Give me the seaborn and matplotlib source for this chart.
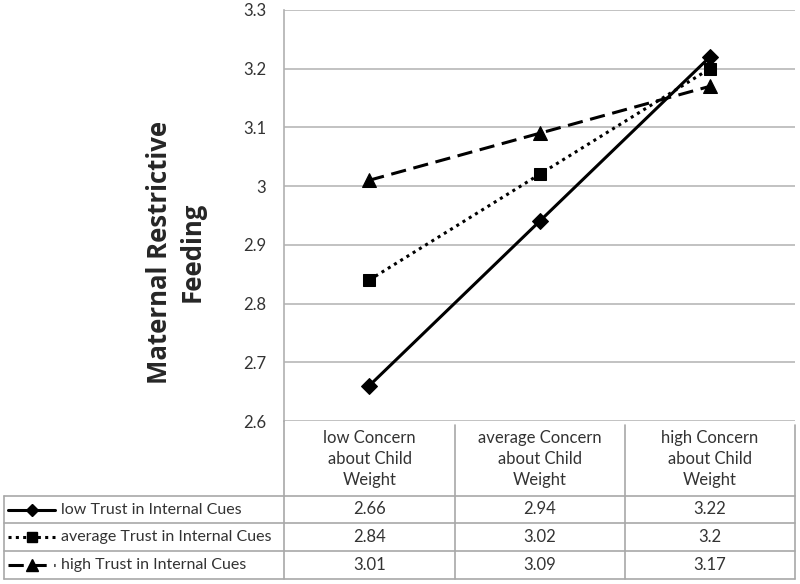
import matplotlib
matplotlib.use("Agg")
import matplotlib.pyplot as plt
import seaborn as sns
import pandas as pd
from matplotlib.lines import Line2D

# ---------------------------------------------------------
# DATA
# ---------------------------------------------------------
concern_labels = [
    "low Concern\nabout Child\nWeight",
    "average Concern\nabout Child\nWeight",
    "high Concern\nabout Child\nWeight",
]
series_names = [
    "low Trust in Internal Cues",
    "average Trust in Internal Cues",
    "high Trust in Internal Cues",
]
low_trust = [2.66, 2.94, 3.22]
avg_trust = [2.84, 3.02, 3.20]
high_trust = [3.01, 3.09, 3.17]
value_text = [
    ["2.66", "2.94", "3.22"],
    ["2.84", "3.02", "3.2"],
    ["3.01", "3.09", "3.17"],
]
y_ticks = [2.6, 2.7, 2.8, 2.9, 3.0, 3.1, 3.2, 3.3]
y_tick_labels = ["2.6", "2.7", "2.8", "2.9", "3", "3.1", "3.2", "3.3"]

# ---------------------------------------------------------
# STYLE
# ---------------------------------------------------------
sns.set_style("white")
plt.rcParams["font.family"] = ["Lato", "DejaVu Sans"]

W, H = 800, 584
fig = plt.figure(figsize=(W / 100, H / 100), dpi=100)


def fx(x):
    return x / W


def fy(y):
    return 1 - y / H


left, right, top, bottom = 284, 795, 10, 421
ax = fig.add_axes([fx(left), fy(bottom), (right - left) / W, (bottom - top) / H])

styles = [
    dict(marker="D", ms=8, ls="-", lw=2.2),
    dict(marker="s", ms=9, ls=(0, (1, 1.4)), lw=2.2),
    dict(marker="^", ms=10, ls=(0, (5, 2.5)), lw=2.2),
]

xs = list(range(len(concern_labels)))
for vals, st in zip([low_trust, avg_trust, high_trust], styles):
    df = pd.DataFrame({"x": xs, "y": vals})
    sns.lineplot(data=df, x="x", y="y", ax=ax, color="black",
                 marker=st["marker"], markersize=st["ms"],
                 linestyle=st["ls"], linewidth=st["lw"],
                 markeredgecolor="black", markerfacecolor="black")

ax.set_xlim(-0.5, len(concern_labels) - 0.5)
ax.set_ylim(2.6, 3.3)
ax.set_yticks(y_ticks)
ax.set_yticklabels(y_tick_labels, fontsize=12, color="#333333")
ax.set_xticks([])
ax.set_xlabel("")
ax.set_ylabel("")
ax.grid(axis="y", color="#b8b8b8", lw=1.2)
ax.tick_params(axis="y", length=0, pad=13)
for s in ["top", "right", "bottom"]:
    ax.spines[s].set_visible(False)
ax.spines["left"].set_color("#b0b0b0")
ax.spines["left"].set_linewidth(1.2)

# y label
fig.text(fx(176), fy(252), "Maternal Restrictive\nFeeding", rotation=90,
         ha="center", va="center", fontsize=18.5, fontweight="bold",
         family=["Open Sans", "DejaVu Sans"],
         multialignment="center", linespacing=1.25)

# ---------------------------------------------------------
# DATA TABLE below the plot
# ---------------------------------------------------------
gray = "#a8a8a8"
row_lines = [496, 523, 551, 579]
col_lines = [284, 455, 625, 795]
table_left = 4

for y in row_lines:
    fig.add_artist(Line2D([fx(table_left), fx(col_lines[-1])], [fy(y), fy(y)],
                          color=gray, lw=1.2, transform=fig.transFigure))
for x in col_lines:
    y0 = 421 if x == col_lines[0] else 425
    fig.add_artist(Line2D([fx(x), fx(x)], [fy(y0), fy(row_lines[-1])],
                          color=gray, lw=1.2, transform=fig.transFigure))
fig.add_artist(Line2D([fx(table_left), fx(table_left)],
                      [fy(row_lines[0]), fy(row_lines[-1])],
                      color=gray, lw=1.2, transform=fig.transFigure))

centers = [(col_lines[i] + col_lines[i + 1]) / 2 for i in range(3)]
for cx, lab in zip(centers, concern_labels):
    fig.text(fx(cx), fy(459), lab, ha="center", va="center", fontsize=12,
             color="#333333", linespacing=1.4)

for r, (name, st) in enumerate(zip(series_names, styles)):
    yc = (row_lines[r] + row_lines[r + 1]) / 2
    fig.add_artist(Line2D([fx(8), fx(55)], [fy(yc), fy(yc)], color="black",
                          lw=st["lw"], ls=st["ls"], transform=fig.transFigure))
    fig.add_artist(Line2D([fx(32)], [fy(yc)], color="black", marker=st["marker"],
                          ms=st["ms"] * 0.8, transform=fig.transFigure))
    fig.text(fx(61), fy(yc), name, ha="left", va="center", fontsize=11.5,
             color="#333333")
    for cx, t in zip(centers, value_text[r]):
        fig.text(fx(cx), fy(yc), t, ha="center", va="center", fontsize=12,
                 color="#333333")

fig.savefig("out.png", dpi=100)
